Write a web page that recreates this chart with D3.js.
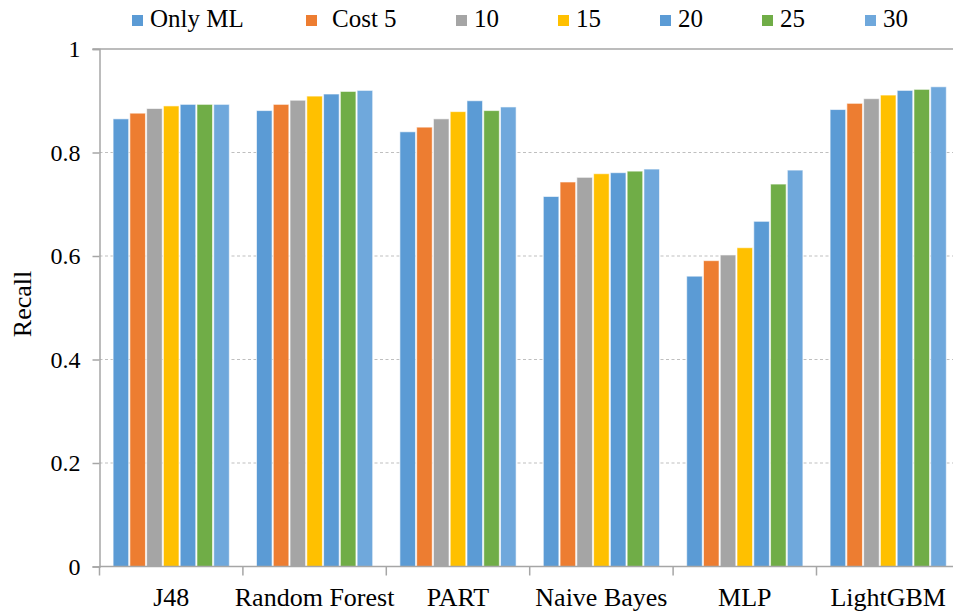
<!DOCTYPE html>
<html>
<head>
<meta charset="utf-8">
<script src="https://cdn.jsdelivr.net/npm/d3@7/dist/d3.min.js"></script>
<style>
  html, body { margin: 0; padding: 0; background: #fff; overflow: hidden; }
  svg text { font-family: "Liberation Serif", Tinos, "Times New Roman", Times, "DejaVu Serif", serif !important; fill: #000; }
</style>
</head>
<body>
<svg id="chart" width="953" height="615"></svg>
<script>
// Classifiers along the x axis
const categories = ["J48", "Random Forest", "PART", "Naive Bayes", "MLP", "LightGBM"];

// Series (baseline and cost settings)
const seriesNames = ["Only ML", "Cost 5", "10", "15", "20", "25", "30"];
const seriesColors = ["#5B9BD5", "#ED7D31", "#A5A5A5", "#FFC000", "#5B9BD5", "#70AD47", "#6FA8DC"];

// Recall per series, one value per classifier
const onlyML = [0.865, 0.881, 0.840, 0.715, 0.561, 0.883];
const cost5  = [0.876, 0.893, 0.849, 0.743, 0.591, 0.895];
const cost10 = [0.885, 0.901, 0.865, 0.752, 0.602, 0.904];
const cost15 = [0.890, 0.909, 0.879, 0.759, 0.616, 0.911];
const cost20 = [0.893, 0.913, 0.900, 0.761, 0.667, 0.920];
const cost25 = [0.893, 0.918, 0.881, 0.764, 0.739, 0.922];
const cost30 = [0.893, 0.920, 0.888, 0.768, 0.766, 0.927];

const yTicks = [0, 0.2, 0.4, 0.6, 0.8, 1];
const yTickLabels = ["0", "0.2", "0.4", "0.6", "0.8", "1"];

const seriesValues = [onlyML, cost5, cost10, cost15, cost20, cost25, cost30];

const FONT = "'Liberation Serif', Tinos, 'Times New Roman', Times, 'DejaVu Serif', serif";

const svg = d3.select("#chart");

const plotLeft = 99.5, plotTop = 49, plotBottom = 566.5;
const groupWidth = 143.4;
const plotRight = plotLeft + groupWidth * categories.length;

const x0 = d3.scaleBand().domain(categories).range([plotLeft, plotRight]).padding(0);
const x1 = d3.scaleBand().domain(seriesNames).range([13, groupWidth - 13]).padding(0);
const y = d3.scaleLinear().domain([0, 1]).range([plotBottom, plotTop]);

// Gridlines
svg.append("g").selectAll("line")
  .data(yTicks.filter(t => t > 0 && t < 1))
  .join("line")
  .attr("x1", plotLeft).attr("x2", 953)
  .attr("y1", d => y(d)).attr("y2", d => y(d))
  .attr("stroke", "#BFBFBF").attr("stroke-width", 1.2)
  .attr("stroke-dasharray", "3,2.5");

svg.append("line")
  .attr("x1", plotLeft - 7).attr("x2", 953)
  .attr("y1", y(1)).attr("y2", y(1))
  .attr("stroke", "#A6A6A6").attr("stroke-width", 1.5);

// Bars
const groups = svg.append("g").selectAll("g")
  .data(categories)
  .join("g")
  .attr("transform", d => `translate(${x0(d)},0)`);

groups.selectAll("rect")
  .data((c, ci) => seriesNames.map((s, si) => ({ s, si, v: seriesValues[si][ci] })))
  .join("rect")
  .attr("x", d => x1(d.s) + 0.6)
  .attr("width", x1.bandwidth() - 1.2)
  .attr("y", d => y(d.v))
  .attr("height", d => y(0) - y(d.v))
  .attr("fill", d => seriesColors[d.si])
  .attr("stroke", "#ffffff")
  .attr("stroke-opacity", 0.6)
  .attr("stroke-width", 1);

// Y axis
const yAxis = d3.axisLeft(y).tickValues(yTicks)
  .tickFormat((d, i) => yTickLabels[i]).tickSize(7).tickPadding(12);
const yg = svg.append("g").attr("transform", `translate(${plotLeft},0)`).call(yAxis)
  .attr("font-family", FONT);
yg.select(".domain").attr("stroke", "#A6A6A6").attr("stroke-width", 1.5);
yg.selectAll(".tick line").attr("stroke", "#A6A6A6").attr("stroke-width", 1.5);
yg.selectAll(".tick text").attr("font-size", 24).style("font-family", FONT).attr("fill", "#000");

// X axis baseline and category dividers
svg.append("line")
  .attr("x1", plotLeft).attr("x2", 953)
  .attr("y1", plotBottom).attr("y2", plotBottom)
  .attr("stroke", "#A6A6A6").attr("stroke-width", 1.5);

svg.append("g").selectAll("line")
  .data(d3.range(categories.length + 1))
  .join("line")
  .attr("x1", i => plotLeft + i * groupWidth).attr("x2", i => plotLeft + i * groupWidth)
  .attr("y1", plotBottom).attr("y2", plotBottom + 9)
  .attr("stroke", "#A6A6A6").attr("stroke-width", 1.5);

svg.append("g").selectAll("text")
  .data(categories)
  .join("text")
  .attr("x", d => x0(d) + x0.bandwidth() / 2)
  .attr("y", 606)
  .attr("text-anchor", "middle")
  .attr("font-size", 26)
  .style("font-family", FONT)
  .text(d => d);

// Y axis title
svg.append("text")
  .attr("transform", "translate(31,304) rotate(-90)")
  .attr("text-anchor", "middle")
  .attr("font-size", 26)
  .style("font-family", FONT)
  .text("Recall");

// Legend
const legendX = [132, 306, 456, 558, 660, 762, 865];
const legend = svg.append("g").selectAll("g")
  .data(seriesNames)
  .join("g")
  .attr("transform", (d, i) => `translate(${legendX[i]},0)`);
legend.append("rect")
  .attr("x", 0).attr("y", 15).attr("width", 11).attr("height", 11)
  .attr("fill", (d, i) => seriesColors[i]);
legend.append("text")
  .attr("x", (d, i) => i === 1 ? 26 : 18)
  .attr("y", 27)
  .attr("font-size", 25)
  .style("font-family", FONT)
  .text(d => d);
</script>
</body>
</html>
